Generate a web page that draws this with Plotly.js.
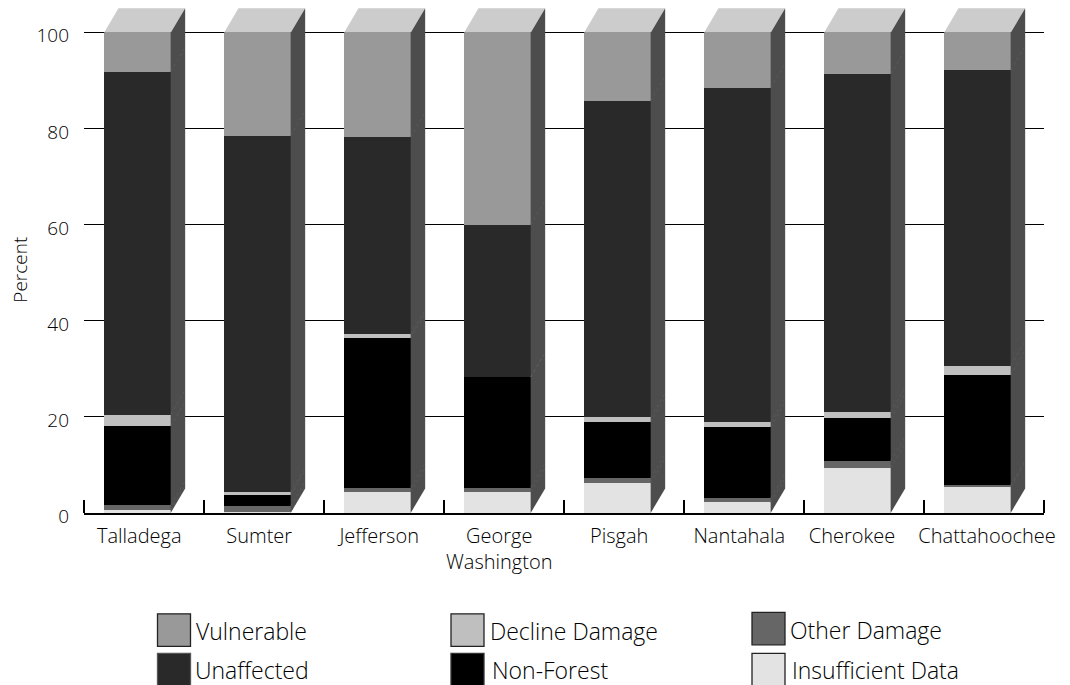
<!DOCTYPE html>
<html><head><meta charset="utf-8">
<script src="https://cdn.plot.ly/plotly-3.0.1.min.js"></script>
<style>html,body{margin:0;padding:0;background:#fff}#chart{width:1070px;height:685px}</style>
</head><body><div id="chart"></div>
<script>
const categories = ['Talladega','Sumter','Jefferson','George Washington','Pisgah','Nantahala','Cherokee','Chattahoochee'];
const insufficientData = [0.6, 0.3, 4.3, 4.3, 6.2, 2.2, 9.3, 5.4];
const otherDamage      = [1.0, 1.1, 1.0, 1.0, 1.0, 0.9, 1.5, 0.4];
const nonForest        = [16.5, 2.3, 31.1, 23.0, 11.7, 14.8, 8.9, 22.9];
const declineDamage    = [2.4, 0.6, 0.8, 0.0, 1.0, 1.0, 1.3, 2.0];
const unaffected       = [71.4, 74.3, 41.1, 31.7, 65.9, 69.6, 70.4, 61.5];
const vulnerable       = [8.1, 21.4, 21.7, 40.0, 14.2, 11.5, 8.6, 7.8];
const yTicks = [0,20,40,60,80,100];
const labelPositions = [0.46,1.46,2.46,3.46,4.46,5.46,6.4,7.525];

const seriesList = [
  {name:'Insufficient Data', values:insufficientData, color:'#e3e3e3'},
  {name:'Other Damage', values:otherDamage, color:'#666666'},
  {name:'Non-Forest', values:nonForest, color:'#000000'},
  {name:'Decline Damage', values:declineDamage, color:'#bfbfbf'},
  {name:'Unaffected', values:unaffected, color:'#292929'},
  {name:'Vulnerable', values:vulnerable, color:'#999999'}
];
const font = '"Open Sans", sans-serif';
const textColor = '#000000';
const textWeight = 300;
const barLeft = 1/6, barW = 0.5556, depthX = 0.1208, depthY = 5.1;
const slots = categories.map((c,i)=>i);

const traces = seriesList.map(s=>({
  type:'bar', name:s.name, x:slots.map(i=>i+barLeft+barW/2), y:s.values, width:barW,
  marker:{color:s.color,line:{width:0}}, cliponaxis:false, hoverinfo:'name+y', showlegend:false
}));

// 3-D faces computed from the data
const topX=[],topY=[],sideX=[],sideY=[],jointX=[],jointY=[];
slots.forEach(i=>{
  const l=i+barLeft, r=l+barW;
  let total=0; seriesList.forEach(s=>total+=s.values[i]);
  topX.push(l,r,r+depthX,l+depthX,l,null); topY.push(total,total,total+depthY,total+depthY,total,null);
  sideX.push(r,r+depthX,r+depthX,r,r,null); sideY.push(0,depthY,total+depthY,total,0,null);
  let c=0;
  seriesList.slice(0,-1).forEach(s=>{c+=s.values[i]; jointX.push(r,r+depthX,null); jointY.push(c,c+depthY,null);});
});
traces.push({type:'scatter',mode:'lines',x:topX,y:topY,fill:'toself',fillcolor:'#cccccc',line:{width:0},hoverinfo:'skip',cliponaxis:false,showlegend:false});
traces.push({type:'scatter',mode:'lines',x:sideX,y:sideY,fill:'toself',fillcolor:'#4d4d4d',line:{width:0},hoverinfo:'skip',cliponaxis:false,showlegend:false});
traces.push({type:'scatter',mode:'lines',x:jointX,y:jointY,line:{width:0.6,color:'#626262',dash:'dot'},hoverinfo:'skip',cliponaxis:false,showlegend:false});

// legend drawn with paper coordinates
const L=84,B=512.7,PW=960,PH=508.8;
const px=x=>(x-L)/PW, py=y=>(B-y)/PH;
const legendItems=[
  ['Vulnerable','#999999','#222222',157.5,613.5,194,631],
  ['Unaffected','#292929','#555555',157.5,653,193,670],
  ['Decline Damage','#bfbfbf','#222222',451,613.5,488,631],
  ['Non-Forest','#000000','#333333',451,653,490,670],
  ['Other Damage','#666666','#222222',752,612,788,630],
  ['Insufficient Data','#e3e3e3','#222222',752,653,790,670]
];
const shapes=legendItems.map(k=>({type:'rect',xref:'paper',yref:'paper',layer:'above',
  x0:px(k[3]),x1:px(k[3]+33),y0:py(k[4]),y1:py(k[4]+32.5),fillcolor:k[1],line:{color:k[2],width:1.3}}));
const annotations=legendItems.map(k=>({xref:'paper',yref:'paper',x:px(k[5]),y:py(k[6]),text:k[0],showarrow:false,
  xanchor:'left',yanchor:'middle',font:{family:font,size:23,color:textColor,weight:textWeight}}));
annotations.push({xref:'paper',yref:'paper',x:px(20),y:py(269.5),text:'Percent',textangle:-90,showarrow:false,
  xanchor:'center',yanchor:'middle',font:{family:font,size:19,color:textColor,weight:textWeight}});

const layout={
  width:1070,height:685,paper_bgcolor:'#fff',plot_bgcolor:'#fff',barmode:'stack',showlegend:false,
  margin:{l:L,r:1070-L-PW,t:B-PH,b:685-B,pad:0},
  font:{family:font,color:textColor,size:16},
  xaxis:{type:'linear',range:[0,8],tickmode:'array',tickvals:labelPositions,
    ticktext:categories.map(c=>c.replace(' ','<br>')),ticks:'',showgrid:false,zeroline:false,
    showline:true,linecolor:'#000',linewidth:2,layer:'below traces',ticklabelstandoff:4,
    minor:{tickmode:'array',tickvals:[0,1,2,3,4,5,6,7,8],ticks:'inside',ticklen:13,tickwidth:2,tickcolor:'#000',showgrid:false},
    tickfont:{family:font,size:20,color:textColor,weight:textWeight},automargin:false},
  yaxis:{range:[0,106],tickmode:'array',tickvals:yTicks,ticks:'',showgrid:true,gridcolor:'#000',gridwidth:1,
    zeroline:false,showline:false,tickfont:{family:font,size:19,color:textColor,weight:textWeight},ticklabelstandoff:14,ticklabelshift:3,
    automargin:false},
  shapes,annotations
};
Plotly.newPlot('chart',traces,layout,{displayModeBar:false,staticPlot:true});
</script></body></html>
